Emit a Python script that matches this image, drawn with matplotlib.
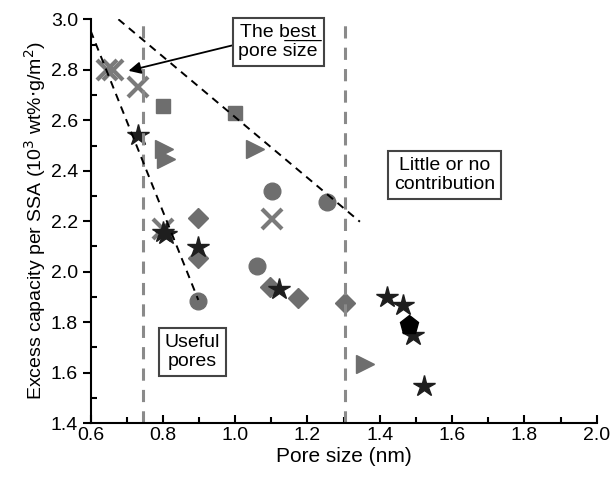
import numpy as np
import matplotlib
matplotlib.use('Agg')
from matplotlib import pyplot as plt
from matplotlib.ticker import MultipleLocator

plt.rcParams['font.family'] = ['Liberation Sans', 'DejaVu Sans']

# Data (pore size nm, excess capacity per SSA)
cross_x = [0.645, 0.663, 0.732, 0.801, 1.101]
cross_y = [2.80, 2.80, 2.73, 2.17, 2.21]
square_x = [0.801, 1.000]
square_y = [2.656, 2.630]
tri_x = [0.803, 0.808, 1.055, 1.360]
tri_y = [2.485, 2.445, 2.485, 1.636]
circle_x = [1.101, 1.254, 1.060, 0.898]
circle_y = [2.321, 2.277, 2.023, 1.885]
diamond_x = [0.898, 0.898, 1.097, 1.175, 1.304]
diamond_y = [2.211, 2.056, 1.940, 1.897, 1.875]
star_x = [0.732, 0.801, 0.810, 0.898, 1.120, 1.420, 1.464, 1.493, 1.523]
star_y = [2.541, 2.158, 2.150, 2.099, 1.930, 1.900, 1.868, 1.749, 1.547]
pent_x = [1.482]
pent_y = [1.788]

# guide lines
vlines = [0.745, 1.303]
guide1_x = [0.600, 0.898]
guide1_y = [2.955, 1.888]
guide2_x = [0.677, 1.345]
guide2_y = [3.000, 2.198]

fig = plt.figure(figsize=(6.12, 4.83), dpi=100)
ax = fig.add_axes([0.148, 0.124, 0.827, 0.836])

gray = '#6e6e6e'
ax.plot(cross_x, cross_y, 'x', color='#7a7a7a', ms=15, mew=3, ls='none')
ax.plot(square_x, square_y, 's', color=gray, ms=10, ls='none')
ax.plot(tri_x, tri_y, '>', color=gray, ms=13, ls='none')
ax.plot(circle_x, circle_y, 'o', color=gray, ms=12, ls='none')
ax.plot(diamond_x, diamond_y, 'D', color=gray, ms=10, ls='none')
ax.plot(star_x, star_y, '*', color='#1e1e1e', ms=16, ls='none')
ax.plot(pent_x, pent_y, 'p', color='#000000', ms=14, ls='none')

for v in vlines:
    ax.axvline(v, color='#8a8a8a', lw=2.2, ls=(0, (4, 3)))
ax.plot(guide1_x, guide1_y, color='black', lw=1.4, ls=(0, (4, 3)))
ax.plot(guide2_x, guide2_y, color='black', lw=1.4, ls=(0, (4, 3)))

box = dict(boxstyle='square,pad=0.3', fc='white', ec='#444444', lw=1.5)
ax.annotate('The b\u0332e\u0332s\u0332t\u0332\npore size', xy=(0.705, 2.796), xytext=(1.119, 2.91),
            ha='center', va='center', fontsize=14, bbox=box,
            arrowprops=dict(arrowstyle='-|>', color='black', lw=1.3, mutation_scale=18,
                            shrinkA=0, shrinkB=0, relpos=(0, 0.45)))
ax.text(1.58, 2.383, 'Little or no\ncontribution', ha='center', va='center', fontsize=14, bbox=box)
ax.text(0.881, 1.682, 'Useful\npores', ha='center', va='center', fontsize=14, bbox=box)

ax.set_xlim(0.6, 2.0)
ax.set_ylim(1.4, 3.0)
ax.xaxis.set_major_locator(MultipleLocator(0.2))
ax.xaxis.set_minor_locator(MultipleLocator(0.1))
ax.yaxis.set_major_locator(MultipleLocator(0.2))
ax.yaxis.set_minor_locator(MultipleLocator(0.1))
ax.spines['top'].set_visible(False)
ax.spines['right'].set_visible(False)
for s in ['left', 'bottom']:
    ax.spines[s].set_linewidth(1.5)
ax.tick_params(axis='x', which='both', direction='in', labelsize=14, width=1.5)
ax.tick_params(axis='y', which='major', direction='out', labelsize=14, width=1.5)
ax.tick_params(axis='y', which='minor', direction='in', width=1.5)
ax.tick_params(which='major', length=6, pad=3)
ax.tick_params(which='minor', length=4)

ax.set_xlabel('Pore size (nm)', fontsize=15, labelpad=2)
ax.set_ylabel('Excess capacity per SSA (10$^3$ wt%$\\cdot$g/m$^2$)', fontsize=14, labelpad=2)

fig.savefig('out.png', dpi=100)
